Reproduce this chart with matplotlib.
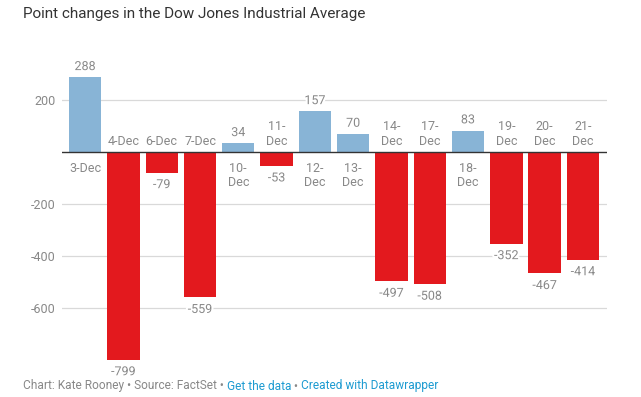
import matplotlib
matplotlib.use("Agg")
import matplotlib.pyplot as plt
import matplotlib.patheffects as pe

plt.rcParams['font.family'] = ['Roboto', 'DejaVu Sans']

dates = ["3-Dec", "4-Dec", "6-Dec", "7-Dec", "10-Dec", "11-Dec", "12-Dec",
         "13-Dec", "14-Dec", "17-Dec", "18-Dec", "19-Dec", "20-Dec", "21-Dec"]
changes = [288, -799, -79, -559, 34, -53, 157, 70, -497, -508, 83, -352, -467, -414]
yticks = [200, -200, -400, -600]

BLUE = "#88b4d6"
RED = "#e3191e"
GREY = "#888888"
LINK = "#1d9bd1"

fig = plt.figure(figsize=(6.41, 3.97), dpi=100)
ax = fig.add_axes([0.097, 0.067, 0.85, 0.779])

x = list(range(len(dates)))
colors = [BLUE if v > 0 else RED for v in changes]
ax.bar(x, changes, width=0.845, color=colors, zorder=2)

ax.set_xlim(-0.6, len(dates) - 1 + 0.63)
ax.set_ylim(-840, 350)

for t in yticks:
    ax.axhline(t, color="#d9d9d9", lw=0.9, zorder=1)
ax.axhline(0, color="#333333", lw=1.0, zorder=3)

ax.set_yticks(yticks)
ax.set_yticklabels([str(t) for t in yticks])
ax.tick_params(axis="y", length=0, labelsize=9, labelcolor=GREY, pad=5)
ax.set_xticks([])
for s in ax.spines.values():
    s.set_visible(False)

halo = [pe.withStroke(linewidth=3, foreground="white")]
for i, (d, v) in enumerate(zip(dates, changes)):
    day, mon = d.split("-")
    lab = d if len(day) == 1 else day + "-\n" + mon
    if v > 0:
        ax.annotate(lab, (i, 0), xytext=(0, -7), textcoords="offset points",
                    ha="center", va="top", fontsize=9, color=GREY, linespacing=1.15)
        ax.annotate(str(v), (i, v), xytext=(0, 3), textcoords="offset points",
                    ha="center", va="bottom", fontsize=9, color=GREY,
                    path_effects=halo, zorder=4)
    else:
        ax.annotate(lab, (i, 0), xytext=(0, 3), textcoords="offset points",
                    ha="center", va="bottom", fontsize=9, color=GREY, linespacing=1.15)
        ax.annotate(str(v), (i, v), xytext=(0, -4), textcoords="offset points",
                    ha="center", va="top", fontsize=9, color=GREY,
                    path_effects=halo, zorder=4)

fig.text(23 / 641, 1 - 14 / 397, "Point changes in the Dow Jones Industrial Average",
         fontsize=11, color="#333333", va="center", ha="left")

# footer, pieces placed one after another
pieces = [("Chart: Kate Rooney \u2022 Source: FactSet \u2022 ", GREY),
          ("Get the data", LINK), (" \u2022 ", GREY),
          ("Created with Datawrapper", LINK)]
fig.canvas.draw()
r = fig.canvas.get_renderer()
xp = 23
for txt, c in pieces:
    t = fig.text(xp / 641, 1 - 386 / 397, txt, fontsize=8.6, color=c,
                 va="center", ha="left")
    xp += t.get_window_extent(renderer=r).width

fig.savefig("out.png", dpi=100)
